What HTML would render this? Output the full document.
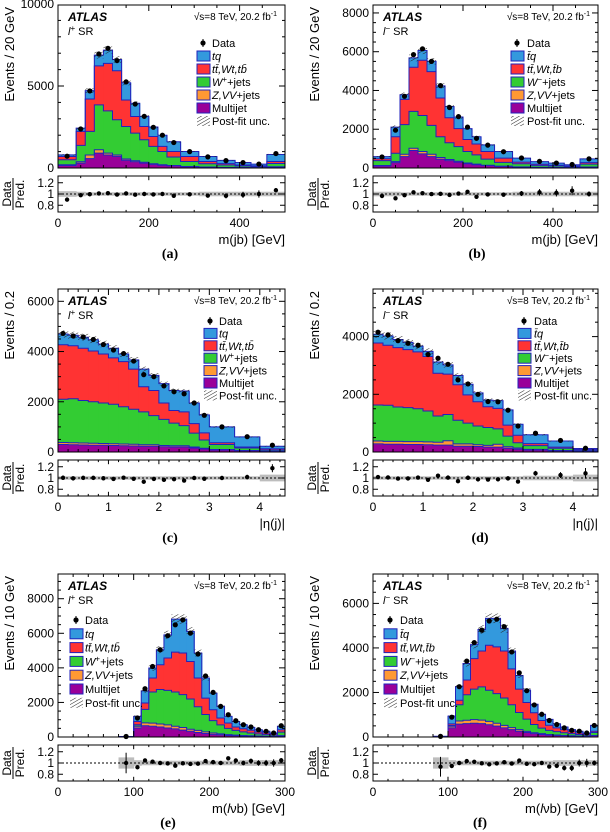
<!DOCTYPE html>
<html><head><meta charset="utf-8"><style>
html,body{margin:0;padding:0;background:#fff;}
svg{display:block;font-family:"Liberation Sans",sans-serif;}
</style></head><body>
<svg id="fig" width="610" height="832" viewBox="0 0 610 832" xmlns="http://www.w3.org/2000/svg">
<defs>
<pattern id="hatch" patternUnits="userSpaceOnUse" width="3" height="3" patternTransform="rotate(60)">
<line x1="0" y1="0" x2="0" y2="3" stroke="#222" stroke-width="1"/>
</pattern>
</defs>
</svg>
<script>
// ---------- data ----------
const abEdges=[0,40,60,80,100,120,140,160,180,200,220,240,270,310,350,390,425,460,500];
const cdEdges=[0,0.2,0.4,0.6,0.8,1.0,1.2,1.4,1.6,1.8,2.0,2.2,2.4,2.6,2.8,3.0,3.5,4.0,4.5];
const efEdges=[80,100,110,120,130,140,150,160,170,180,190,200,210,220,230,240,250,260,270,280,290,300];

const aMJ=[150,300,570,910,790,710,470,380,300,220,170,130,80,50,30,20,15,60];
const aZ=[50,80,220,200,120,80,80,60,50,40,30,20,15,10,5,5,5,15];
const aW=[300,1000,1440,2740,2570,2150,1980,1690,1370,1060,810,520,300,200,150,100,70,200];
const aTT=[200,850,1980,2380,2900,2990,1620,1010,810,600,310,340,310,140,80,60,40,120];
const aTQ=[100,200,510,650,810,690,1050,810,620,580,680,590,300,300,200,150,110,430];
const aData=[720,2380,4700,6950,7300,6550,5250,3900,3150,2480,2000,1550,1000,680,450,330,240,880];
const aUnc=[0.05,0.04,0.03,0.03,0.03,0.03,0.03,0.03,0.03,0.03,0.03,0.03,0.03,0.04,0.04,0.04,0.04,0.04];

const bMJ=[100,280,590,900,730,590,460,380,300,220,170,120,80,50,30,20,15,40];
const bZ=[30,50,120,120,120,120,80,60,50,40,30,20,15,10,5,5,5,10];
const bW=[250,430,1530,1900,1860,1490,1070,860,750,590,480,320,195,160,100,75,50,150];
const bTT=[100,850,1300,2280,2850,2770,2000,1290,930,620,560,390,220,80,60,45,30,80];
const bTQ=[110,500,240,480,500,540,630,580,600,560,370,340,340,210,135,105,70,190];
const bData=[570,1950,3700,5850,6150,5500,4250,3120,2650,2110,1530,1180,840,515,340,255,180,470];
const bUnc=[0.04,0.04,0.03,0.03,0.03,0.03,0.03,0.03,0.03,0.03,0.03,0.03,0.03,0.04,0.04,0.04,0.04,0.04];

const cMJ=[300,290,280,270,270,260,250,240,230,230,210,200,200,160,120,80,50,25];
const cZ=[80,80,80,80,70,70,70,70,60,60,50,50,50,40,30,20,10,5];
const cW=[1720,1750,1690,1650,1610,1570,1480,1390,1310,1160,1040,900,800,550,330,200,100,50];
const cTT=[2170,2110,2080,2020,1950,1850,1800,1600,1000,1000,650,500,550,380,280,70,40,50];
const cTQ=[430,420,440,450,400,380,300,370,700,600,770,800,830,820,720,630,400,100];
const cData=[4720,4620,4580,4480,4280,4060,3920,3620,3080,3000,2630,2400,2320,1950,1460,1000,610,270];
const cUnc=[0.03,0.03,0.03,0.03,0.03,0.03,0.03,0.03,0.03,0.03,0.03,0.03,0.03,0.03,0.03,0.03,0.03,0.06];

const dMJ=[280,270,270,260,260,250,240,240,200,200,190,170,170,130,100,70,40,20];
const dZ=[100,100,100,100,100,100,100,150,80,80,60,60,100,50,40,20,10,5];
const dW=[1250,1250,1190,1180,1140,1070,910,910,820,720,650,620,530,370,180,130,80,35];
const dTT=[2150,2080,2060,2010,1970,1890,1480,1400,1230,980,840,720,710,380,260,70,40,30];
const dTQ=[300,320,280,250,200,180,390,320,320,370,310,230,270,530,380,310,210,30];
const dData=[4150,4060,3860,3770,3700,3380,3250,3040,2500,2360,2000,1750,1740,1450,900,650,400,130];
const dUnc=[0.03,0.03,0.03,0.03,0.03,0.03,0.03,0.03,0.03,0.03,0.03,0.03,0.03,0.03,0.03,0.04,0.04,0.06];

const eMJ=[15,520,650,620,580,520,470,400,330,260,200,150,120,90,70,55,45,35,25,20,50];
const eZ=[2,100,170,180,170,180,150,150,120,120,100,80,60,50,40,35,25,20,15,10,30];
const eW=[8,90,780,1800,2000,2000,1980,1900,1750,1370,1000,720,520,360,270,210,160,125,100,70,200];
const eTT=[3,190,370,810,1430,1870,2310,2410,2170,1660,950,630,400,310,200,180,160,110,90,70,140];
const eTQ=[2,290,700,580,870,1340,1910,1960,1740,1450,1160,960,670,380,320,230,170,130,100,60,200];
const eData=[30,1100,2790,4080,5050,5860,6490,6780,6010,4800,3530,2580,1770,1290,940,710,580,420,330,230,650];
const eUnc=[0.1,0.05,0.04,0.04,0.04,0.04,0.04,0.04,0.04,0.04,0.04,0.04,0.04,0.04,0.04,0.05,0.05,0.05,0.05,0.05,0.05];

const fMJ=[15,410,580,600,620,600,550,490,410,330,260,200,150,110,85,70,55,40,30,22,55];
const fZ=[2,75,140,150,160,160,150,130,110,90,70,50,40,40,25,20,15,15,10,8,15];
const fW=[8,30,730,1150,1370,1490,1400,1330,1230,1030,770,550,370,250,190,150,120,95,70,50,130];
const fTT=[3,75,200,660,1370,1610,2020,2100,2110,1610,1050,750,530,340,230,170,140,110,70,60,60];
const fTQ=[2,350,610,740,630,970,1210,1280,1020,800,610,560,380,280,260,180,120,70,80,40,260];
const fData=[28,890,2260,3410,4240,4800,5210,5290,4950,3820,2880,2080,1440,1020,740,560,410,300,260,180,520];
const fUnc=[0.1,0.05,0.04,0.04,0.04,0.04,0.04,0.04,0.04,0.04,0.04,0.04,0.04,0.04,0.04,0.05,0.05,0.05,0.05,0.05,0.05];

const abXTicks=[0,200,400];
const cdXTicks=[0,1,2,3,4];
const efXTicks=[0,100,200,300];
const aYTicks=[0,5000,10000];
const bYTicks=[0,2000,4000,6000,8000];
const cYTicks=[0,2000,4000,6000];
const dYTicks=[0,2000,4000];
const eYTicks=[0,2000,4000,6000,8000];
const fYTicks=[0,2000,4000,6000];
const ratioTicks=[0.8,1,1.2];

// ---------- drawing ----------
const NS='http://www.w3.org/2000/svg';
const svg=document.getElementById('fig');
const COLORS=['#990099','#ff9933','#33cc33','#ff3333','#3399dd'];
const NAMES=['multijet','z-vv-jets','w-jets','ttbar-wt','tq'];
const OUTLINE='#2222bb';
function mk(tag,attrs,parent){const e=document.createElementNS(NS,tag);for(const k in attrs)e.setAttribute(k,attrs[k]);(parent||svg).appendChild(e);return e;}
function txt(s,attrs,parent){const t=mk('text',attrs,parent);t.textContent=s;return t;}

function drawPanel(p){
  const g=mk('g',{});
  
  
  const X0=p.x0,X1=p.x1,T=p.top,B=p.top+163,RT=p.top+171,RB=p.top+207;
  const xs=v=>X0+(v-p.xmin)/(p.xmax-p.xmin)*(X1-X0);
  const ys=v=>B-v/p.ymax*(B-T);
  const rMin=0.68,rMax=1.32;
  const rs=v=>RT+(rMax-Math.max(rMin,Math.min(rMax,v)))/(rMax-rMin)*(RB-RT);
  const comps=[p.mj,p.z,p.w,p.tt,p.tq];
  const n=p.data.length;
  const cum=[];
  for(let i=0;i<n;i++){let s=0;const c=[0];for(let k=0;k<5;k++){s+=comps[k][i];c.push(s);}cum.push(c);}
  for(let k=0;k<5;k++){
    const sg=mk('g',{},g);
    
    
    for(let i=0;i<n;i++){
      const xa=xs(p.edges[i]),xb=xs(p.edges[i+1]);
      const y0=ys(cum[i][k]),y1=ys(cum[i][k+1]);
      const r=mk('rect',{x:xa,y:y1,width:xb-xa+(i<n-1?0.6:0),height:Math.max(0,y0-y1)+0.3,fill:COLORS[k]},sg);
      
      
    }
  }
  for(let k=1;k<=5;k++){
    let d='';
    for(let i=0;i<n;i++){
      const xa=xs(p.edges[i]),xb=xs(p.edges[i+1]),y=ys(cum[i][k]);
      d+=(i==0?'M'+xa+','+B+'L':'L')+xa+','+y+'L'+xb+','+y;
    }
    d+='L'+xs(p.edges[n])+','+B;
    mk('path',{d:d,fill:'none',stroke:OUTLINE,'stroke-width':1},g);
  }
  for(let i=0;i<n;i++){
    const tot=cum[i][5],u=p.unc[i];
    const xa=xs(p.edges[i]),xb=xs(p.edges[i+1]);
    const h=mk('rect',{x:xa,y:ys(tot*(1+u)),width:xb-xa,height:ys(tot*(1-u))-ys(tot*(1+u)),fill:'url(#hatch)'},g);
    
    
  }
  for(let i=0;i<n;i++){
    const cx=(xs(p.edges[i])+xs(p.edges[i+1]))/2,v=p.data[i],e=Math.sqrt(v);
    mk('line',{x1:cx,x2:cx,y1:ys(v+e),y2:ys(v-e),stroke:'#000','stroke-width':1},g);
    const c=mk('circle',{cx:cx,cy:ys(v),r:2.6,fill:'#000'},g);
    
    
  }
  mk('rect',{x:X0,y:T,width:X1-X0,height:B-T,fill:'none',stroke:'#000','stroke-width':1},g);
  for(let i=0;i<n;i++){
    const xa=xs(p.edges[i]),xb=xs(p.edges[i+1]),u=p.unc[i];
    const rb=mk('rect',{x:xa,y:rs(1+u),width:xb-xa+0.5,height:rs(1-u)-rs(1+u),fill:'#bdbdbd'},g);
    
    
  }
  mk('line',{x1:X0,x2:X1,y1:rs(1),y2:rs(1),stroke:'#000','stroke-width':1,'stroke-dasharray':'2,2'},g);
  for(let i=0;i<n;i++){
    const cx=(xs(p.edges[i])+xs(p.edges[i+1]))/2,tot=cum[i][5],v=p.data[i];
    const r=v/tot,e=Math.sqrt(v)/tot;
    mk('line',{x1:cx,x2:cx,y1:rs(r+e),y2:rs(r-e),stroke:'#000','stroke-width':1},g);
    const c=mk('circle',{cx:cx,cy:rs(r),r:2.2,fill:'#000'},g);
    
    
  }
  mk('rect',{x:X0,y:RT,width:X1-X0,height:RB-RT,fill:'none',stroke:'#000','stroke-width':1},g);
  for(let v=0;v<=p.ymax;v+=p.yminor){
    const y=ys(v),major=p.yticks.indexOf(v)>=0,L=major?6:3;
    mk('line',{x1:X0,x2:X0+L,y1:y,y2:y,stroke:'#000'},g);
    mk('line',{x1:X1,x2:X1-L,y1:y,y2:y,stroke:'#000'},g);
  }
  p.yticks.forEach(v=>{
    const t=txt(String(v),{x:X0-4,y:ys(v)+4,'text-anchor':'end','font-size':12,fill:'#000'},g);
    
    
  });
  for(let v=p.xmin;v<=p.xmax+1e-9;v+=p.xminor){
    const x=xs(v),major=p.xticks.some(t=>Math.abs(t-v)<1e-6),L=major?6:3;
    mk('line',{x1:x,x2:x,y1:B,y2:B-L,stroke:'#000'},g);
    mk('line',{x1:x,x2:x,y1:T,y2:T+L,stroke:'#000'},g);
    mk('line',{x1:x,x2:x,y1:RB,y2:RB-L*0.7,stroke:'#000'},g);
    mk('line',{x1:x,x2:x,y1:RT,y2:RT+L*0.7,stroke:'#000'},g);
  }
  p.xticks.forEach(v=>{
    const t=txt(String(v),{x:xs(v),y:RB+15,'text-anchor':'middle','font-size':12,fill:'#000'},g);
    
    
  });
  ratioTicks.forEach(v=>{
    mk('line',{x1:X0,x2:X0+5,y1:rs(v),y2:rs(v),stroke:'#000'},g);
    mk('line',{x1:X1,x2:X1-5,y1:rs(v),y2:rs(v),stroke:'#000'},g);
    const t=txt(String(v),{x:X0-4,y:rs(v)+4,'text-anchor':'end','font-size':12,fill:'#000'},g);
    
    
  });
  const yt=txt(p.ytitle,{x:0,y:0,transform:'translate('+p.ytx+','+(T+2)+') rotate(-90)','text-anchor':'end','font-size':13,fill:'#000'},g);
  
  
  const rc=(RT+RB)/2;
  const d1=txt('Data',{x:0,y:0,transform:'translate('+(p.ytx-3)+','+rc+') rotate(-90)','text-anchor':'middle','font-size':12,fill:'#000'},g);
  
  
  mk('line',{x1:p.ytx-1,x2:p.ytx-1,y1:rc-16,y2:rc+16,stroke:'#000'},g);
  const d2=txt('Pred.',{x:0,y:0,transform:'translate('+(p.ytx+10)+','+rc+') rotate(-90)','text-anchor':'middle','font-size':12,fill:'#000'},g);
  
  
  const xt=mk('text',{x:X1,y:RB+32,'text-anchor':'end','font-size':13,fill:'#000'},g);
  
  
  p.xtitle.forEach(seg=>{const s=mk('tspan',seg[1]||{},xt);s.textContent=seg[0];});
  const lt=txt(p.letter,{x:p.letterX,y:RB+46,'text-anchor':'middle','font-size':14,'font-weight':'bold','font-family':'Liberation Serif, serif',fill:'#000'},g);
  
  
  const at=txt('ATLAS',{x:X0+10,y:T+16,'font-size':12,'font-weight':'bold','font-style':'italic',fill:'#000'},g);
  
  
  const sr=mk('text',{x:X0+10,y:T+30,'font-size':11,fill:'#000'},g);
  
  
  const s1=mk('tspan',{'font-style':'italic'},sr);s1.textContent='l';
  const s2=mk('tspan',{'font-size':8,dy:-4},sr);s2.textContent=p.sign;
  const s3=mk('tspan',{dy:4},sr);s3.textContent=' SR';
  const en=mk('text',{x:X1-8,y:T+15,'text-anchor':'end','font-size':10,fill:'#000'},g);
  
  
  const e1=mk('tspan',{},en);e1.textContent='√s=8 TeV, 20.2 fb';
  const e2=mk('tspan',{'font-size':7,dy:-4},en);e2.textContent='-1';
  const lg=mk('g',{},g);
  
  
  const ly=p.ly,st=p.lstep,bx=p.lbx,tx=p.ltx;
  mk('circle',{cx:bx+6,cy:ly,r:2.6,fill:'#000'},lg);
  mk('line',{x1:bx+6,x2:bx+6,y1:ly-4,y2:ly+4,stroke:'#000'},lg);
  const ld=txt('Data',{x:tx,y:ly+4,'font-size':11,fill:'#000'},lg);
  
  
  const order=[4,3,2,1,0];
  order.forEach((k,j)=>{
    const y=ly+st*(j+1);
    mk('rect',{x:bx,y:y-5,width:13,height:10,fill:COLORS[k],stroke:OUTLINE,'stroke-width':1},lg);
    const t=mk('text',{x:tx,y:y+4,'font-size':11,fill:'#000'},lg);
    
    
    p.labels[j].forEach(seg=>{const s=mk('tspan',seg[1]||{},t);s.textContent=seg[0];});
  });
  const yp=ly+st*6;
  mk('rect',{x:bx,y:yp-5,width:13,height:10,fill:'url(#hatch)'},lg);
  const tp=txt('Post-fit unc.',{x:tx,y:yp+4,'font-size':11,fill:'#000'},lg);
  
  
}
const I={'font-style':'italic'};
const plusLabels=[[['tq',I]],[['tt̄,Wt,tb̄',I]],[['W',I],['+',{'font-size':8,dy:-4}],['+jets',{dy:4}]],[['Z,VV',I],['+jets']],[['Multijet']]];
const minusLabels=[[['t̄q',I]],[['tt̄,Wt,t̄b',I]],[['W',I],['−',{'font-size':8,dy:-4}],['+jets',{dy:4}]],[['Z,VV',I],['+jets']],[['Multijet']]];
const mjbTitle=[['m(jb) [GeV]']];
const etaTitle=[['|η(j)|']];
const mlvbTitle=[['m('],['l',I],['νb) [GeV]']];

drawPanel({id:'a',x0:58,x1:285,top:5,xmin:0,xmax:500,ymax:9940,edges:abEdges,mj:aMJ,z:aZ,w:aW,tt:aTT,tq:aTQ,data:aData,unc:aUnc,yticks:aYTicks,yminor:1000,xticks:abXTicks,xminor:50,ytitle:'Events / 20 GeV',ytx:14,xtitle:mjbTitle,letter:'(a)',letterX:170,sign:'+',ly:43,lstep:13,lbx:197,ltx:212,labels:plusLabels});
drawPanel({id:'b',x0:373,x1:598,top:5,xmin:0,xmax:500,ymax:8410,edges:abEdges,mj:bMJ,z:bZ,w:bW,tt:bTT,tq:bTQ,data:bData,unc:bUnc,yticks:bYTicks,yminor:500,xticks:abXTicks,xminor:50,ytitle:'Events / 20 GeV',ytx:319,xtitle:mjbTitle,letter:'(b)',letterX:477,sign:'−',ly:43,lstep:13,lbx:511,ltx:527,labels:minusLabels});
drawPanel({id:'c',x0:58,x1:285,top:289,xmin:0,xmax:4.5,ymax:6490,edges:cdEdges,mj:cMJ,z:cZ,w:cW,tt:cTT,tq:cTQ,data:cData,unc:cUnc,yticks:cYTicks,yminor:500,xticks:cdXTicks,xminor:0.2,ytitle:'Events / 0.2',ytx:14,xtitle:etaTitle,letter:'(c)',letterX:170,sign:'+',ly:321,lstep:12.4,lbx:204,ltx:219,labels:plusLabels});
drawPanel({id:'d',x0:373,x1:598,top:289,xmin:0,xmax:4.5,ymax:5650,edges:cdEdges,mj:dMJ,z:dZ,w:dW,tt:dTT,tq:dTQ,data:dData,unc:dUnc,yticks:dYTicks,yminor:500,xticks:cdXTicks,xminor:0.2,ytitle:'Events / 0.2',ytx:319,xtitle:etaTitle,letter:'(d)',letterX:480,sign:'−',ly:321,lstep:12.4,lbx:518,ltx:534,labels:minusLabels});
drawPanel({id:'e',x0:58,x1:285,top:574,xmin:0,xmax:300,ymax:9430,edges:efEdges,mj:eMJ,z:eZ,w:eW,tt:eTT,tq:eTQ,data:eData,unc:eUnc,yticks:eYTicks,yminor:500,xticks:efXTicks,xminor:20,ytitle:'Events / 10 GeV',ytx:14,xtitle:mlvbTitle,letter:'(e)',letterX:168,sign:'+',ly:620,lstep:13.8,lbx:70,ltx:85,labels:plusLabels});
drawPanel({id:'f',x0:373,x1:598,top:574,xmin:0,xmax:300,ymax:7320,edges:efEdges,mj:fMJ,z:fZ,w:fW,tt:fTT,tq:fTQ,data:fData,unc:fUnc,yticks:fYTicks,yminor:500,xticks:efXTicks,xminor:20,ytitle:'Events / 10 GeV',ytx:319,xtitle:mlvbTitle,letter:'(f)',letterX:480,sign:'−',ly:620,lstep:13.8,lbx:384,ltx:400,labels:minusLabels});
</script>
</body></html>
